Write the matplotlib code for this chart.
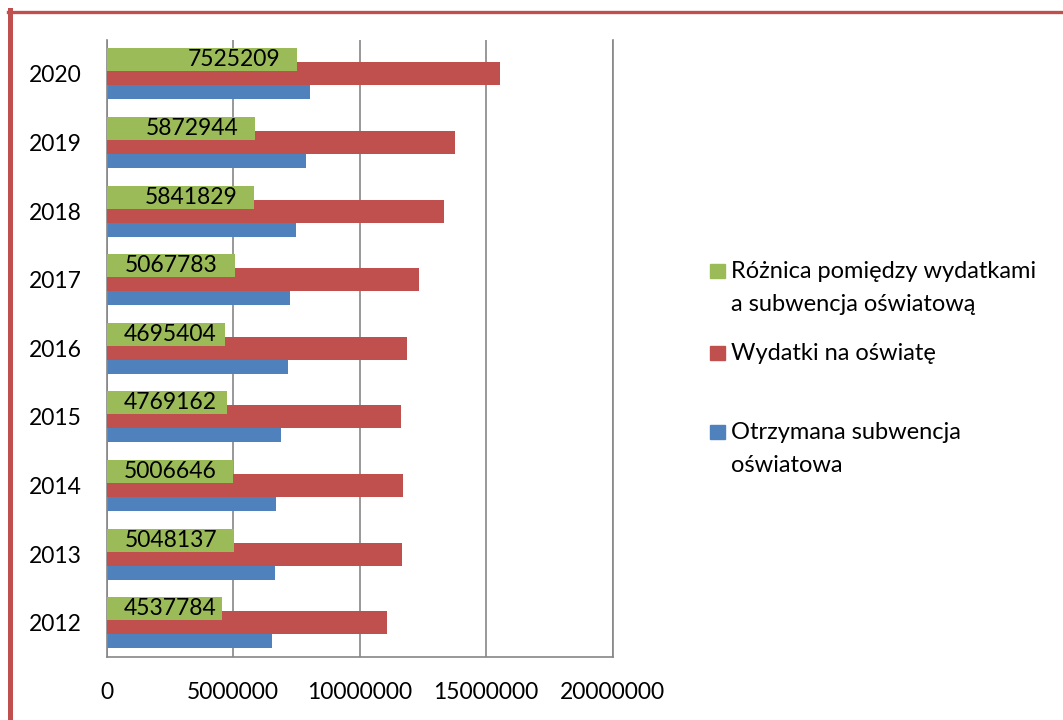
import matplotlib
matplotlib.use('Agg')
import matplotlib.pyplot as plt
import numpy as np
from matplotlib.patches import Rectangle
from matplotlib.lines import Line2D

plt.rcParams['font.family'] = ['Lato', 'DejaVu Sans']

years = ['2012', '2013', '2014', '2015', '2016', '2017', '2018', '2019', '2020']
subwencja = [6530000, 6640000, 6710000, 6870000, 7160000, 7260000, 7490000, 7890000, 8030000]
wydatki = [11080000, 11690000, 11720000, 11640000, 11860000, 12330000, 13330000, 13760000, 15560000]
roznica = [4537784, 5048137, 5006646, 4769162, 4695404, 5067783, 5841829, 5872944, 7525209]
x_ticks = [0, 5000000, 10000000, 15000000, 20000000]

legend_labels = ['Różnica pomiędzy wydatkami\na subwencja oświatową',
                 'Wydatki na oświatę',
                 'Otrzymana subwencja\noświatowa']

GREEN = '#9BBB59'
RED = '#C0504D'
BLUE = '#4F81BD'
GRID = '#868686'

W, H = 1063, 720
fig = plt.figure(figsize=(W / 100, H / 100), dpi=100)
ax = fig.add_axes([106.7 / W, 1 - 657 / H, (612.7 - 106.7) / W, (657 - 39.5) / H])

y = np.arange(len(years))
h = 0.335
step = 0.204
ax.barh(y - step, subwencja, h, color=BLUE, zorder=2)
ax.barh(y, wydatki, h, color=RED, zorder=3)
ax.barh(y + step, roznica, h, color=GREEN, zorder=4)

for yi, v in zip(y, roznica):
    ax.annotate(f'{v}', xy=(max(v, 5.0e6), yi + step), xytext=(-12.2, 0),
                textcoords='offset points', ha='right', va='center',
                fontsize=16.5, zorder=5, color='black')

ax.set_ylim(-0.5, len(years) - 0.5)
ax.set_xlim(0, 20000000)
ax.set_xticks(x_ticks)
ax.set_xticklabels([str(t) for t in x_ticks])
ax.set_yticks(y)
ax.set_yticklabels(years)
ax.tick_params(axis='both', length=0, labelsize=16.5)
ax.tick_params(axis='x', pad=18)
ax.tick_params(axis='y', pad=18)
ax.grid(axis='x', color=GRID, lw=1.2, zorder=1)
ax.set_axisbelow(True)
for s in ['left', 'bottom', 'right']:
    ax.spines[s].set_color(GRID)
    ax.spines[s].set_linewidth(1.2)
ax.spines['top'].set_visible(False)

# Legend (drawn manually to match Excel layout)
leg_colors = [GREEN, RED, BLUE]
baselines = [278, 360, 439]
line_pitch = 33
for lab, col, b in zip(legend_labels, leg_colors, baselines):
    fig.add_artist(Rectangle((710 / W, 1 - b / H), 14.5 / W, 14.5 / H,
                             transform=fig.transFigure, color=col))
    for i, line in enumerate(lab.split('\n')):
        fig.text(731 / W, 1 - (b + i * line_pitch) / H, line, fontsize=17,
                 va='baseline', ha='left')

# Red frame
fig.add_artist(Line2D([10 / W, 10 / W], [0, 1 - 10 / H], transform=fig.transFigure,
                      color=RED, lw=3.6, solid_capstyle='projecting'))
fig.add_artist(Line2D([8 / W, 1], [1 - 11.5 / H, 1 - 11.5 / H], transform=fig.transFigure,
                      color=RED, lw=2.4))

fig.savefig('out.png', dpi=100, facecolor='white')
